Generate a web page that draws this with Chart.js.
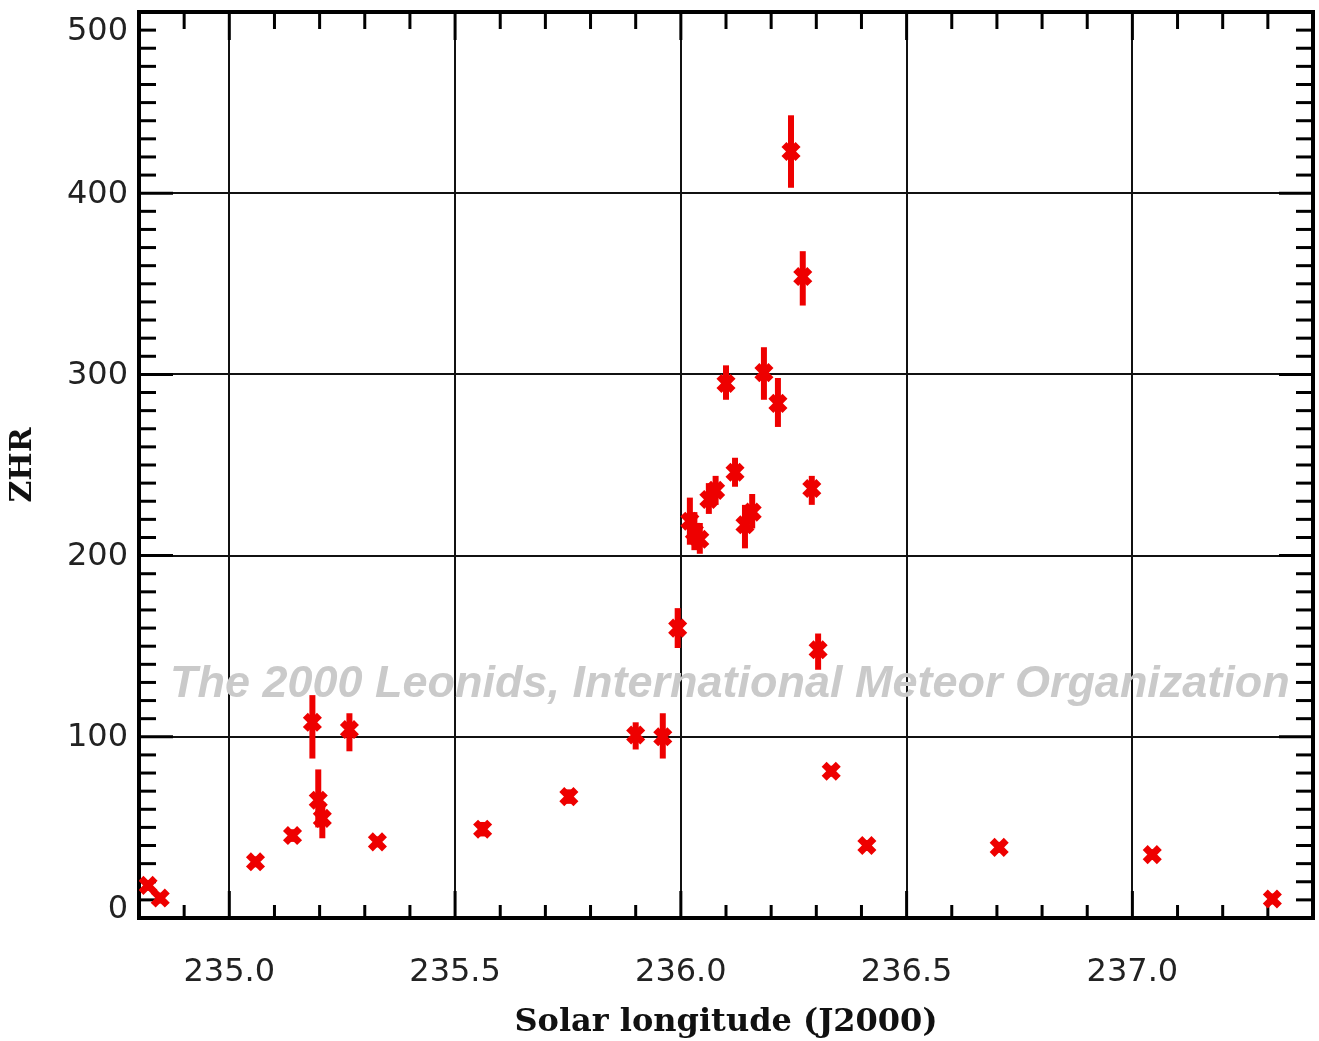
<!DOCTYPE html>
<html><head><meta charset="utf-8">
<script src="https://cdn.jsdelivr.net/npm/chart.js@4.4.0/dist/chart.umd.min.js"></script>
<style>html,body{margin:0;padding:0;background:#fff;}canvas{display:block;}</style>
</head><body>
<canvas id="c" width="1319" height="1041"></canvas>
<script>
// ---- data ----
const solarLon = [234.82, 234.847, 235.058, 235.14, 235.184, 235.197, 235.206, 235.266, 235.328,
  235.561, 235.752, 235.90, 235.96, 235.993, 236.02, 236.03, 236.042, 236.062, 236.077,
  236.10, 236.12, 236.142, 236.158, 236.184, 236.215, 236.244, 236.27, 236.29, 236.304,
  236.333, 236.412, 236.705, 237.044, 237.31];
const zhr = [18, 11, 31, 45.5, 108, 65, 55, 104, 42,
  49, 67, 101, 100, 160, 219, 213, 209, 231, 236,
  295, 246, 217, 224, 301, 284, 423, 354, 237, 148,
  81, 40, 39, 35, 10.5];
const zhrLow = [15, 8, 28, 42, 88, 50, 44, 92, 39,
  45, 63, 93, 88, 149, 206, 203, 201, 223, 228,
  286, 238, 204, 215, 286, 271, 403, 338, 228, 137,
  78, 37, 36, 32, 7.5];
const zhrHigh = [21, 14, 34, 49, 123, 82, 64, 113, 45,
  53, 71, 108, 113, 171, 232, 224, 218, 240, 244,
  305, 254, 228, 234, 315, 298, 443, 368, 244, 157,
  84, 43, 42, 38, 13.5];
const xTicks = [235.0, 235.5, 236.0, 236.5, 237.0];
const yTicks = [0, 100, 200, 300, 400, 500];
const xRange = [234.8, 237.4];
const yRange = [0, 500];
const xMinorStep = 0.1;
const yMinorStep = 10;
const watermarkText = 'The 2000 Leonids, International Meteor Organization';
const xTitle = 'Solar longitude (J2000)';
const yTitle = 'ZHR';

const RED = '#ee0000';
const TICK_FONT = "32px 'DejaVu Sans'";

const decor = {
  id: 'decor',
  beforeDatasetsDraw(chart) {
    const {ctx, chartArea: a, scales: {x, y}} = chart;
    ctx.save();
    // watermark
    let fs = 44;
    ctx.font = `italic bold ${fs}px 'Liberation Sans'`;
    const w = ctx.measureText(watermarkText).width;
    fs = fs * 1120 / w;
    ctx.font = `italic bold ${fs}px 'Liberation Sans'`;
    ctx.fillStyle = 'rgb(202,202,202)';
    ctx.textAlign = 'left';
    ctx.textBaseline = 'alphabetic';
    ctx.fillText(watermarkText, 170, 697);

    const seg = (x1, y1, x2, y2) => { ctx.beginPath(); ctx.moveTo(x1, y1); ctx.lineTo(x2, y2); ctx.stroke(); };
    ctx.strokeStyle = '#000';
    ctx.lineCap = 'butt';
    ctx.lineWidth = 3;
    // x minor/major ticks (top and bottom, pointing inward)
    for (let k = Math.round(xRange[0] / xMinorStep) + 1; k < Math.round(xRange[1] / xMinorStep); k++) {
      const v = k * xMinorStep;
      const major = xTicks.some(t => Math.abs(t - v) < 1e-6);
      const px = x.getPixelForValue(v);
      seg(px, a.bottom, px, a.bottom - (major ? 27 : 13));
      seg(px, a.top, px, a.top + (major ? 28 : 17));
    }
    // y minor/major ticks (left and right)
    for (let k = Math.round(yRange[0] / yMinorStep) + 1; k < Math.round(yRange[1] / yMinorStep); k++) {
      const v = k * yMinorStep;
      const major = yTicks.includes(v);
      const py = y.getPixelForValue(v);
      const len = major ? 34 : 17;
      seg(a.left, py, a.left + len, py);
      seg(a.right, py, a.right - len, py);
    }
    // frame
    ctx.lineWidth = 4;
    ctx.strokeRect(a.left, a.top, a.right - a.left, a.bottom - a.top);

    // y tick labels
    ctx.font = TICK_FONT;
    ctx.fillStyle = '#222';
    ctx.textAlign = 'right';
    ctx.textBaseline = 'middle';
    yTicks.forEach(v => {
      let py = y.getPixelForValue(v);
      py = Math.min(Math.max(py, a.top + 19), a.bottom - 9);
      ctx.fillText(String(v), 128, py + 1);
    });

    // error bars
    ctx.strokeStyle = RED;
    ctx.lineWidth = 6;
    solarLon.forEach((s, i) => {
      const px = x.getPixelForValue(s);
      seg(px, y.getPixelForValue(zhrLow[i]), px, y.getPixelForValue(zhrHigh[i]));
    });
    ctx.restore();
  }
};

new Chart(document.getElementById('c'), {
  type: 'scatter',
  data: {
    datasets: [{
      data: solarLon.map((s, i) => ({x: s, y: zhr[i]})),
      pointStyle: 'crossRot',
      pointRadius: 10,
      borderWidth: 7,
      borderColor: RED,
      backgroundColor: RED
    }]
  },
  options: {
    responsive: false,
    animation: false,
    devicePixelRatio: 1,
    events: [],
    layout: {autoPadding: false, padding: {top: 12, right: 6, left: 0, bottom: 0}},
    plugins: {legend: {display: false}, tooltip: {enabled: false}},
    scales: {
      x: {
        type: 'linear',
        min: xRange[0], max: xRange[1],
        afterBuildTicks: s => { s.ticks = xTicks.map(v => ({value: v})); },
        afterFit: s => { s.height = 123; },
        grid: {color: '#111', lineWidth: 2, drawTicks: false},
        border: {display: false},
        ticks: {
          padding: 35,
          color: '#222',
          font: {family: "'DejaVu Sans'", size: 32},
          callback: v => Number(v).toFixed(1),
          maxRotation: 0
        },
        title: {
          display: true, text: xTitle, color: '#111',
          font: {family: "'DejaVu Serif'", size: 32, weight: 'bold', lineHeight: 1.05},
          padding: {top: 0, bottom: 2}
        }
      },
      y: {
        type: 'linear',
        min: yRange[0], max: yRange[1],
        afterBuildTicks: s => { s.ticks = yTicks.map(v => ({value: v})); },
        afterFit: s => { s.width = 139; },
        grid: {color: '#111', lineWidth: 2, drawTicks: false},
        border: {display: false},
        ticks: {display: false},
        title: {
          display: true, text: yTitle, color: '#111',
          font: {family: "'DejaVu Serif'", size: 30, weight: 'bold', lineHeight: 1.2},
          padding: {top: 5, bottom: 0}
        }
      }
    }
  },
  plugins: [decor]
});
</script>
</body></html>
